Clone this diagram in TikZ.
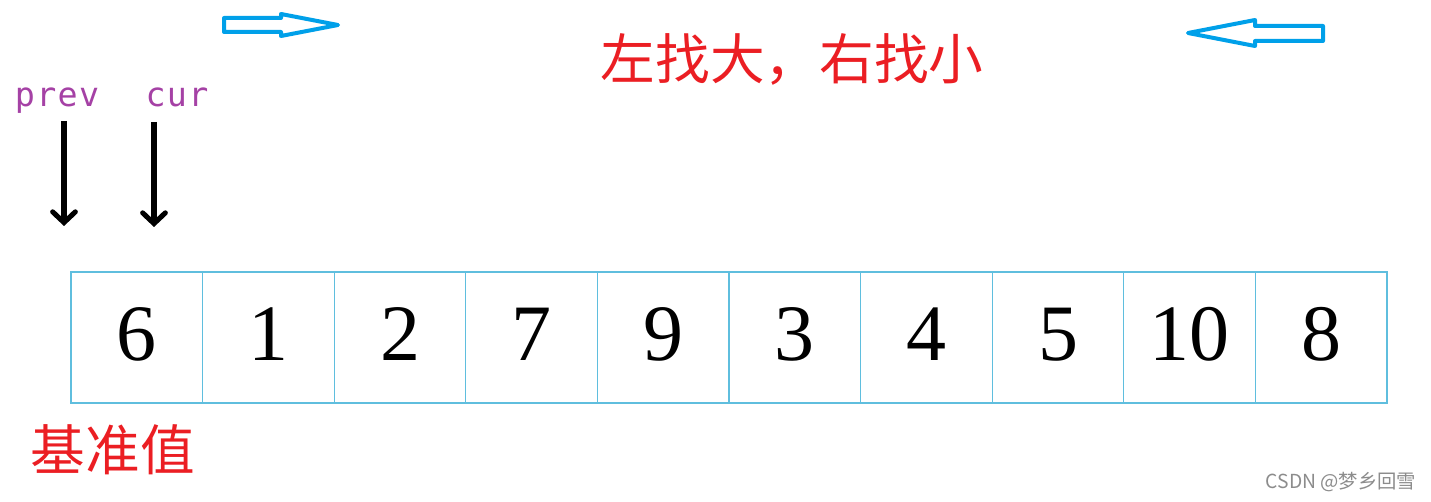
\documentclass[tikz,border=0pt]{standalone}
\usepackage{fontspec}
\setmainfont{Liberation Serif}
\newfontfamily\cjk{Noto Sans CJK SC}
\newfontfamily\codefont{DejaVu Sans Mono}
\usetikzlibrary{arrows.meta}
\definecolor{cellblue}{RGB}{95,190,222}
\definecolor{arrowblue}{RGB}{0,160,233}
\definecolor{ptrpurple}{RGB}{165,65,165}
\definecolor{hintred}{RGB}{235,30,35}

\begin{document}
\begin{tikzpicture}
        [%%%%%%%%%%%%%%%%%%%%%%%%%%%%%%
        x=0.75pt, y=-0.75pt,
        cell/.style={rectangle,draw=cellblue,line width=0.9pt, minimum width=98.7pt, minimum height=98.25pt, inner sep=0pt, text height=40pt, text depth=5pt, font=\fontsize{60}{60}\selectfont},
        ptrlabel/.style={text=ptrpurple, font=\codefont\fontsize{25}{25}\selectfont, inner sep=0pt},
        ptr/.style={line width=3.8pt, -{Straight Barb[length=8pt,width=17pt,line cap=round]}},
        hint/.style={text=hintred, font=\cjk\fontsize{41}{41}\selectfont, inner sep=0pt},
        bigarrow/.style={draw=arrowblue, line width=3pt, line join=round},
        ]%%%%%%%%%%%%%%%%%%%%%%%%%%%%%%
        \useasboundingbox (0,0) rectangle (1431,502);

        % the array
        \foreach \v [count=\i from 0] in {6,1,2,7,9,3,4,5,10,8}{
          \node[cell] (c\i) at (71+131.6*\i+65.8,337.5){\v};
        }

        % pointers
        \node[ptrlabel, anchor=base] (prev) at (57,107){p\kern1pt r\kern1pt e\kern1pt v};
        \node[ptrlabel, anchor=base] (cur) at (177,107){c\kern1pt u\kern1pt r};
        \coordinate (prevtop) at (64,121);
        \coordinate (prevtip) at (64,226);
        \coordinate (curtop) at (154,122);
        \coordinate (curtip) at (154,227);
        \draw[ptr] (prevtop) -- (prevtip);
        \draw[ptr] (curtop) -- (curtip);

        % hints
        \node[hint] (rule) at (792,59){左找大，右找小};
        \node[hint] (pivot) at (113,450){基准值};

        % direction arrows
        \draw[bigarrow] (224,18) -- (281,18) -- (281,14) -- (338,25) -- (281,36) -- (281,32) -- (224,32) -- cycle;
        \draw[bigarrow] (1323,26) -- (1255,26) -- (1255,20) -- (1188,33) -- (1255,46) -- (1255,41) -- (1323,41) -- cycle;

        \node[text=black!45, font=\cjk\fontsize{14.5}{14.5}\selectfont, inner sep=0pt] (mark) at (1341,482){CSDN @梦乡回雪};

      \end{tikzpicture}
\end{document}
